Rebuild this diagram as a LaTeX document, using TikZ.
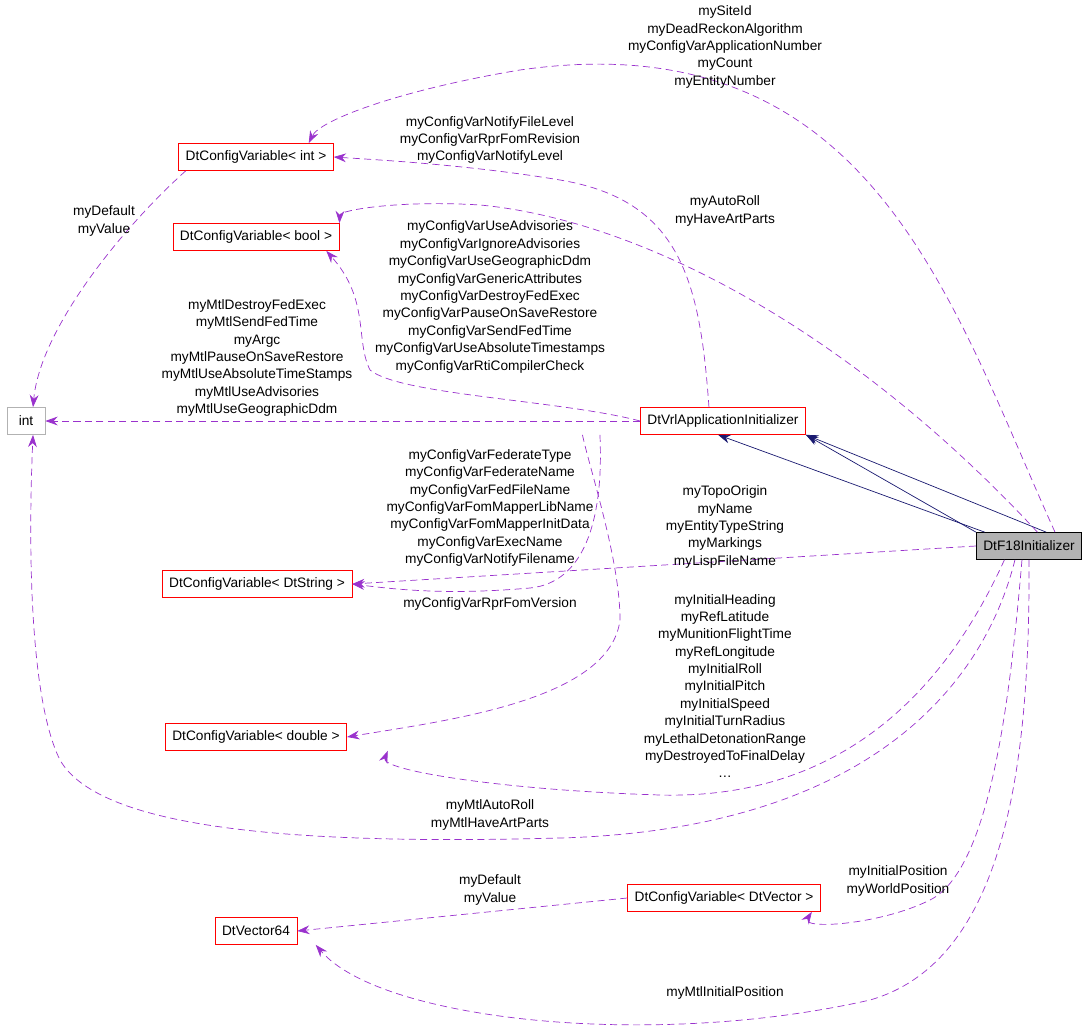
\documentclass[tikz,border=0pt]{standalone}
\usepackage{fontspec}
\setmainfont{Liberation Sans}
\usetikzlibrary{arrows.meta}
\definecolor{dpurple}{HTML}{9A32CD}
\definecolor{dnavy}{HTML}{191970}
\tikzset{
  cls/.style={draw=red, rectangle, minimum height=0.54cm, inner xsep=4pt, font=\fontsize{7.8}{9.9}\selectfont},
  dep/.style={draw=dpurple, dashed, dash pattern=on 4pt off 2.5pt, -{Stealth[length=7pt,width=5pt]}},
  inh/.style={draw=dnavy, -{Stealth[length=7pt,width=5pt]}},
  lbl/.style={align=center, font=\fontsize{7.8}{9.9}\selectfont, inner sep=0pt}
}
\begin{document}
\begin{tikzpicture}[x=0.02cm, y=-0.02cm]
\useasboundingbox (0,0) rectangle (1091,1030);

% classes

\node[cls] (cvint) at (256,157) {DtConfigVariable< int >};
\node[cls] (cvbool) at (256,237) {DtConfigVariable< bool >};
\node[cls, draw=gray!60, minimum width=0.76cm] (int) at (26,421) {int};
\node[cls] (vrl) at (723,421) {DtVrlApplicationInitializer};
\node[cls] (cvstr) at (257,584) {DtConfigVariable< DtString >};
\node[cls] (cvdbl) at (256,737) {DtConfigVariable< double >};
\node[cls, draw=black, fill=gray!60] (f18) at (1029,546) {DtF18Initializer};
\node[cls] (cvvec) at (724,898) {DtConfigVariable< DtVector >};
\node[cls] (vec64) at (256,931) {DtVector64};

% inheritance

\draw[inh] (f18.north west) -- (vrl.south east);
\draw[inh] ([xshift=40]f18.north west) -- (vrl.south east);
\draw[inh] ([xshift=5]f18.north west) -- ([xshift=-50]vrl.south east);

% usage

\draw[dep] ([xshift=45]f18.north west) .. controls (950,300) and (870,20) .. (520,70) .. controls (400,90) and (320,120) .. ([xshift=30]cvint.north);
\node[lbl] at (725,47) {mySiteId\\myDeadReckonAlgorithm\\myConfigVarApplicationNumber\\myCount\\myEntityNumber};

\draw[dep] ([xshift=35]f18.north west) .. controls (850,330) and (640,220) .. (480,205) .. controls (400,200) and (340,210) .. (cvbool.north east);
\node[lbl] at (725,211) {myAutoRoll\\myHaveArtParts};

\draw[dep] ([xshift=-8]vrl.north) .. controls (700,280) and (680,200) .. (560,180) .. controls (470,165) and (380,160) .. (cvint.east);
\node[lbl] at (490,140) {myConfigVarNotifyFileLevel\\myConfigVarRprFomRevision\\myConfigVarNotifyLevel};

\draw[dep] (vrl.west) .. controls (560,400) and (400,395) .. (370,370) .. controls (355,340) and (370,300) .. ([xshift=40]cvbool.south);
\node[lbl] at (490,297) {myConfigVarUseAdvisories\\myConfigVarIgnoreAdvisories\\myConfigVarUseGeographicDdm\\myConfigVarGenericAttributes\\myConfigVarDestroyFedExec\\myConfigVarPauseOnSaveRestore\\myConfigVarSendFedTime\\myConfigVarUseAbsoluteTimestamps\\myConfigVarRtiCompilerCheck};

\draw[dep] (vrl.west) -- (int.east);
\node[lbl] at (257,358) {myMtlDestroyFedExec\\myMtlSendFedTime\\myArgc\\myMtlPauseOnSaveRestore\\myMtlUseAbsoluteTimeStamps\\myMtlUseAdvisories\\myMtlUseGeographicDdm};

\draw[dep] ([xshift=-40]cvint.south) .. controls (120,230) and (40,330) .. ([xshift=4]int.north);
\node[lbl] at (104,221) {myDefault\\myValue};

\draw[dep] ([xshift=-70]vrl.south) .. controls (600,450) and (610,580) .. (530,588) .. controls (450,595) and (400,590) .. (cvstr.east);
\node[lbl] at (490,508) {myConfigVarFederateType\\myConfigVarFederateName\\myConfigVarFedFileName\\myConfigVarFomMapperLibName\\myConfigVarFomMapperInitData\\myConfigVarExecName\\myConfigVarNotifyFilename};

\draw[dep] ([xshift=-80]vrl.south) .. controls (590,470) and (620,560) .. (620,620) .. controls (610,700) and (450,720) .. (cvdbl.east);
\node[lbl] at (490,604) {myConfigVarRprFomVersion};

\draw[dep] (f18.west) -- (cvstr.east);
\node[lbl] at (725,527) {myTopoOrigin\\myName\\myEntityTypeString\\myMarkings\\myLispFileName};

\draw[dep] ([xshift=-14]f18.south) .. controls (950,680) and (850,800) .. (660,795) .. controls (500,790) and (380,770) .. ([xshift=75]cvdbl.south);
\node[lbl] at (725,686) {myInitialHeading\\myRefLatitude\\myMunitionFlightTime\\myRefLongitude\\myInitialRoll\\myInitialPitch\\myInitialSpeed\\myInitialTurnRadius\\myLethalDetonationRange\\myDestroyedToFinalDelay\\\dots};

\draw[dep] ([xshift=-8]f18.south) .. controls (980,700) and (850,830) .. (560,838) .. controls (300,845) and (100,830) .. (60,760) .. controls (30,700) and (28,550) .. ([xshift=4]int.south);
\node[lbl] at (490,815) {myMtlAutoRoll\\myMtlHaveArtParts};

\draw[dep] ([xshift=-4]f18.south) .. controls (1010,700) and (990,870) .. (930,900) .. controls (880,925) and (800,930) .. ([xshift=50]cvvec.south);
\node[lbl] at (898,881) {myInitialPosition\\myWorldPosition};

\draw[dep] (cvvec.west) -- (vec64.east);
\node[lbl] at (490,890) {myDefault\\myValue};

\draw[dep] (f18.south) .. controls (1030,750) and (1010,960) .. (870,1000) .. controls (650,1050) and (380,1020) .. ([xshift=34]vec64.south);
\node[lbl] at (725,993) {myMtlInitialPosition};

\end{tikzpicture}
\end{document}
